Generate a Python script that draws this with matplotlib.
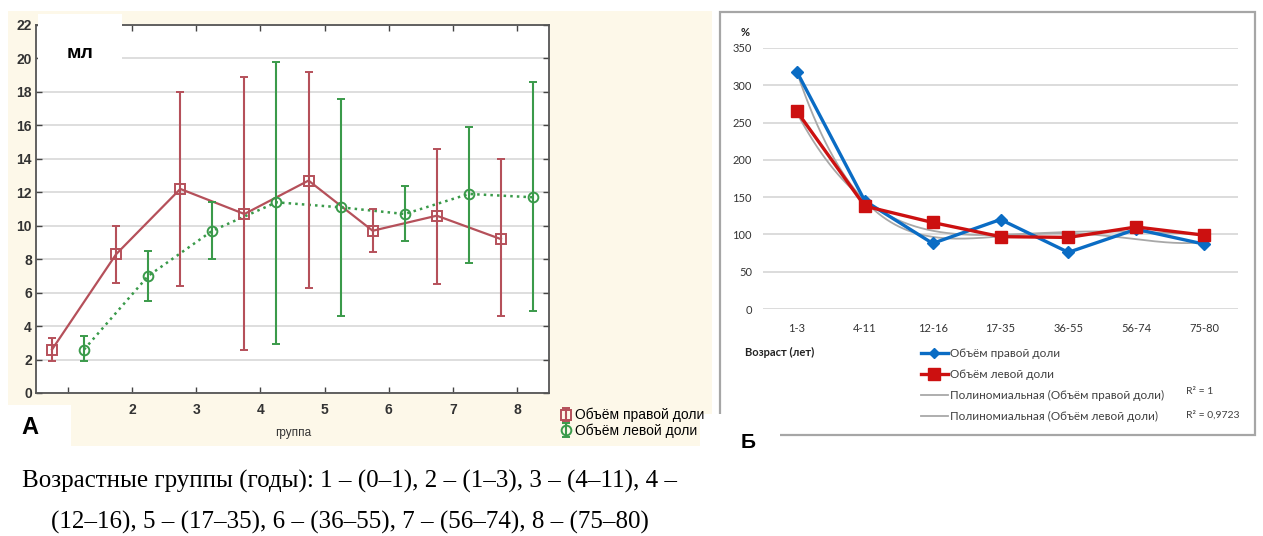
import numpy as np
import matplotlib
matplotlib.use("Agg")
import matplotlib.pyplot as plt
from matplotlib.patches import Rectangle
from matplotlib.lines import Line2D

# ── данные: панель А (объём долей по группам, мл) ──
groups = [1, 2, 3, 4, 5, 6, 7, 8]
group_labels = ["", "2", "3", "4", "5", "6", "7", "8"]

right_mean = [2.6, 8.3, 12.2, 10.7, 12.7, 9.7, 10.6, 9.2]
right_lo = [1.9, 6.6, 6.4, 2.6, 6.3, 8.4, 6.5, 4.6]
right_hi = [3.3, 10.0, 18.0, 18.9, 19.2, 11.0, 14.6, 14.0]

left_mean = [2.6, 7.0, 9.7, 11.4, 11.1, 10.7, 11.9, 11.7]
left_lo = [1.9, 5.5, 8.0, 2.9, 4.6, 9.1, 7.8, 4.9]
left_hi = [3.4, 8.5, 11.4, 19.8, 17.6, 12.4, 15.9, 18.6]

# ── данные: панель Б (% по возрастам) ──
ages = ["1-3", "4-11", "12-16", "17-35", "36-55", "56-74", "75-80"]
right_pct = [318, 145, 88, 120, 76, 107, 87]
left_pct = [265, 138, 116, 97, 96, 110, 99]

W, H = 1263, 536
fig = plt.figure(figsize=(W / 100, H / 100), dpi=100)


def fbox(x0, y0, x1, y1):
    """пиксели (от левого верхнего угла) -> [left, bottom, width, height] в долях фигуры"""
    return [x0 / W, 1 - y1 / H, (x1 - x0) / W, (y1 - y0) / H]


def frect(x0, y0, x1, y1, **kw):
    l, b, w, h = fbox(x0, y0, x1, y1)
    fig.patches.append(Rectangle((l, b), w, h, transform=fig.transFigure, **kw))


# ─────────────────────────────────────────────
# Панель А
# ─────────────────────────────────────────────
frect(8, 11, 712, 446, facecolor="#fdf8e9", edgecolor="none", zorder=0)

RED = "#b5505a"
GREEN = "#3a9a4a"
sans = ["Liberation Sans", "DejaVu Sans"]

axA = fig.add_axes(fbox(36, 25, 549, 393))
axA.set_zorder(1)
axA.set_facecolor("white")
xr = np.array(groups) - 0.25
xl = np.array(groups) + 0.25
rm, lm = np.array(right_mean), np.array(left_mean)

axA.plot(xr, rm, "-", color=RED, lw=1.6, zorder=3)
axA.plot(xl, lm, ":", color=GREEN, lw=1.8, zorder=3)
hr = axA.errorbar(xr, rm, yerr=[rm - np.array(right_lo), np.array(right_hi) - rm],
                  fmt="s", mfc="none", mec=RED, ms=7, mew=1.4, ecolor=RED,
                  elinewidth=1.5, capsize=3, capthick=1.5, zorder=4,
                  label="Объём правой доли")
hl = axA.errorbar(xl, lm, yerr=[lm - np.array(left_lo), np.array(left_hi) - lm],
                  fmt="o", mfc="none", mec=GREEN, ms=7, mew=1.4, ecolor=GREEN,
                  elinewidth=1.5, capsize=3, capthick=1.5, zorder=4,
                  label="Объём левой доли")

axA.set_xlim(0.5, 8.5)
axA.set_ylim(0, 22)
axA.set_yticks(range(0, 23, 2))
axA.set_xticks(groups)
axA.set_xticklabels(group_labels)
axA.grid(axis="y", color="#d8d8d8", lw=1.2)
axA.set_axisbelow(True)
axA.tick_params(direction="in", length=4, width=1, color="#444444",
                top=True, right=True, labelsize=10, labelcolor="#333333")
axA.tick_params(axis="x", pad=7)
axA.tick_params(axis="y", pad=3)
for lab in axA.get_xticklabels() + axA.get_yticklabels():
    lab.set_fontweight("bold")
    lab.set_family(sans)
for s in axA.spines.values():
    s.set_color("#555555")
    s.set_linewidth(1.3)

fig.text(293 / W, 1 - 433 / H, "группа", ha="center", va="center",
         fontsize=8.5, color="#333333", family=sans)

fig.legend(handles=[hr, hl], loc="upper left", bbox_to_anchor=(553 / W, 1 - 401 / H),
           frameon=False, handlelength=0.8, handletextpad=0.3,
           labelspacing=0.05, borderpad=0, prop={"family": sans, "size": 10})

# белые плашки "мл" и "А"
frect(38, 14, 122, 75, facecolor="white", edgecolor="none", zorder=5)
fig.text(80 / W, 1 - 54 / H, "мл", ha="center", va="center", fontsize=14,
         fontweight="bold", family=sans, zorder=6)
frect(8, 405, 71, 446, facecolor="white", edgecolor="none", zorder=5)
fig.text(30 / W, 1 - 428 / H, "А", ha="center", va="center", fontsize=17,
         fontweight="bold", family=sans, zorder=6)

# подпись под графиком
serif = ["Liberation Serif", "DejaVu Serif"]
fig.text(349 / W, 1 - 481 / H,
         "Возрастные группы (годы): 1 – (0–1), 2 – (1–3), 3 – (4–11), 4 –",
         ha="center", va="center", fontsize=18, family=serif)
fig.text(350 / W, 1 - 522 / H,
         "(12–16), 5 – (17–35), 6 – (36–55), 7 – (56–74), 8 – (75–80)",
         ha="center", va="center", fontsize=18, family=serif)

# ─────────────────────────────────────────────
# Панель Б
# ─────────────────────────────────────────────
frect(720, 12, 1255, 435, facecolor="white", edgecolor="#a6a6a6", lw=1.6, zorder=0.5)

BLUE = "#0a6cc4"
DRED = "#cc1010"
TREND = "#a8a8a8"
calib = ["Lato", "DejaVu Sans"]

axB = fig.add_axes(fbox(763, 48, 1238, 309))
axB.set_zorder(1)
axB.set_facecolor("none")
xi = np.arange(len(ages))
xs = np.linspace(0, len(ages) - 1, 200)
for vals in (right_pct, left_pct):
    coef = np.polyfit(xi, vals, 4)
    axB.plot(xs, np.polyval(coef, xs), color=TREND, lw=1.3, zorder=2)
axB.plot(xi, right_pct, "-D", color=BLUE, lw=2.4, ms=6, zorder=3)
axB.plot(xi, left_pct, "-s", color=DRED, lw=2.4, ms=9, zorder=4)

axB.set_xlim(-0.5, len(ages) - 0.5)
axB.set_ylim(0, 350)
axB.set_yticks(range(0, 351, 50))
axB.set_xticks(xi)
axB.set_xticklabels(ages)
axB.grid(axis="y", color="#d9d9d9", lw=1.3)
axB.set_axisbelow(True)
for s in axB.spines.values():
    s.set_visible(False)
axB.tick_params(length=0, labelsize=8, labelcolor="#333333", pad=10)
axB.tick_params(axis="y", pad=8)
for lab in axB.get_xticklabels() + axB.get_yticklabels():
    lab.set_family(calib)

fig.text(745 / W, 1 - 32 / H, "%", ha="center", va="center", fontsize=8,
         fontweight="bold", family=calib, color="#222222")
fig.text(745 / W, 1 - 352 / H, "Возраст (лет)", ha="left", va="center", fontsize=8,
         fontweight="bold", family=calib, color="#222222")

legB = [
    Line2D([], [], color=BLUE, lw=2.4, marker="D", ms=5),
    Line2D([], [], color=DRED, lw=2.4, marker="s", ms=8),
    Line2D([], [], color=TREND, lw=1.3),
    Line2D([], [], color=TREND, lw=1.3),
]
legB_labels = ["Объём правой доли", "Объём левой доли",
               "Полиномиальная (Объём правой доли)",
               "Полиномиальная (Объём левой доли)"]
fig.legend(legB, legB_labels, loc="upper left", bbox_to_anchor=(915 / W, 1 - 342 / H),
           frameon=False, handlelength=2.3, handletextpad=0.2, labelspacing=0.85,
           borderpad=0, prop={"family": calib, "size": 8.5}, labelcolor="#404040")
fig.text(1186 / W, 1 - 392 / H, "R² = 1", ha="left", va="center", fontsize=7.5,
         family=calib, color="#404040")
fig.text(1186 / W, 1 - 415 / H, "R² = 0,9723", ha="left", va="center", fontsize=7.5,
         family=calib, color="#404040")

frect(700, 414, 780, 450, facecolor="white", edgecolor="none", zorder=5)
fig.text(748 / W, 1 - 443 / H, "Б", ha="center", va="center", fontsize=15,
         fontweight="bold", family=sans, zorder=6)

fig.savefig("out.png", dpi=100)
